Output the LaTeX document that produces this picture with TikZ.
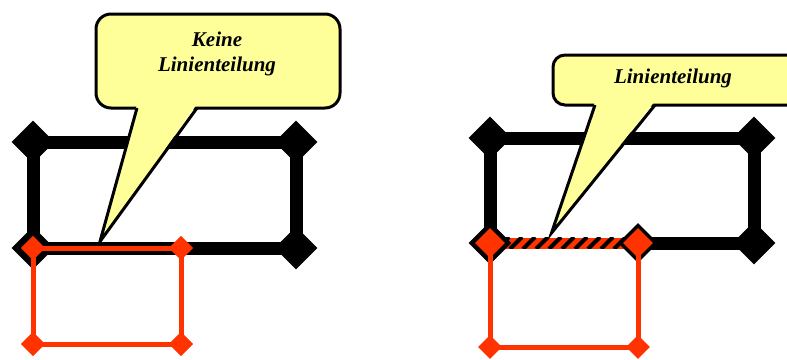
\documentclass[tikz,border=0pt]{standalone}
\usepackage{fontspec}
\setmainfont{Liberation Serif}
\usetikzlibrary{shapes.geometric}
\definecolor{signal}{RGB}{255,51,0}
\definecolor{bubble}{RGB}{255,255,153}

\begin{document}
\begin{tikzpicture}[
    x=1pt, y=-1pt,
    corner/.style={diamond, fill=black, inner sep=0pt, minimum size=43pt},
    rcorner/.style={diamond, fill=signal, inner sep=0pt, minimum size=24pt},
    track/.style={line width=13pt, black},
    rtrack/.style={line width=5pt, signal},
    stripe/.style={line width=4pt, black},
    bubblebox/.style={draw, line width=3pt, fill=bubble, rounded corners=15pt, inner sep=0pt},
    pointer/.style={line width=3pt, line join=miter},
    bubbletext/.style={font=\fontsize{21}{25}\selectfont\bfseries\itshape, align=center}
]
    \useasboundingbox (0,0) rectangle (787,359);
    \clip (0,0) rectangle (787,359);

    % Left: no line splitting
    \node[corner] (a1) at (33,142) {};
    \node[corner] (a2) at (296,142) {};
    \node[corner] (a3) at (296,248) {};
    \node[corner] (a4) at (33,248) {};
    \draw[track] (a1.center) -- (a2.center) -- (a3.center) -- (a4.center) -- cycle;

    \node[bubblebox, minimum width=244pt, minimum height=94pt] (b1) at (218,61) {};
    \coordinate (b1l) at (137,108);
    \coordinate (b1r) at (197,108);
    \coordinate (b1tip) at (100,241.5);
    \fill[bubble] ([yshift=4pt]b1l) -- (b1tip) -- ([yshift=4pt]b1r) -- cycle;
    \draw[pointer] (b1l) -- (b1tip) -- (b1r);
    \node[bubbletext] (t1) at (217,54) {Keine\\Linienteilung};

    \node[rcorner] (r1) at (33,248) {};
    \node[rcorner] (r2) at (181,248) {};
    \node[rcorner] (r3) at (181,344) {};
    \node[rcorner] (r4) at (33,344) {};
    \draw[rtrack] (r1.center) -- (r2.center) -- (r3.center) -- (r4.center) -- cycle;
    \foreach \n in {r1, r2, r3, r4} {
        \node[rcorner] at (\n) {};
    }

    % Right: line splitting
    \coordinate (c1) at (490,138);
    \coordinate (c2) at (754,138);
    \coordinate (c3) at (754,243);
    \coordinate (c4) at (490,243);
    \coordinate (c5) at (638,243);
    \draw[track] (c5) -- (c3) -- (c2) -- (c1) -- (c4);

    % hatched part
    \draw[signal, line width=11pt] (c4) -- (c5);
    \begin{scope}
        \clip ([yshift=5.5pt]c4) rectangle ([yshift=-5.5pt]c5);
        \foreach \x in {484,497,...,650} {
            \draw[stripe] (\x,249) -- (\x+12,237);
        }
    \end{scope}

    \node[corner] (d1) at (c1) {};
    \node[corner] (d2) at (c2) {};
    \node[corner] (d3) at (c3) {};
    \node[corner] (d4) at (c4) {};
    \node[corner, minimum size=40pt] (d5) at (c5) {};

    \node[bubblebox, rounded corners=12pt, minimum width=250pt, minimum height=50pt] (b2) at (678,80) {};
    \coordinate (b2l) at (595,105);
    \coordinate (b2r) at (655,105);
    \coordinate (b2tip) at (551.5,233);
    \fill[bubble] ([yshift=4pt]b2l) -- (b2tip) -- ([yshift=4pt]b2r) -- cycle;
    \draw[pointer] (b2l) -- (b2tip) -- (b2r);
    \node[bubbletext] (t2) at (673,78) {Linienteilung};

    \coordinate (s1) at (490,243);
    \coordinate (s2) at (638,243);
    \coordinate (s3) at (638,347);
    \coordinate (s4) at (490,347);
    \draw[rtrack] (s1) -- (s4) -- (s3) -- (s2);
    \node[rcorner, minimum size=30pt] (e1) at (s1) {};
    \node[rcorner, minimum size=30pt] (e2) at (s2) {};
    \node[rcorner] (e3) at (s3) {};
    \node[rcorner] (e4) at (s4) {};
\end{tikzpicture}
\end{document}
